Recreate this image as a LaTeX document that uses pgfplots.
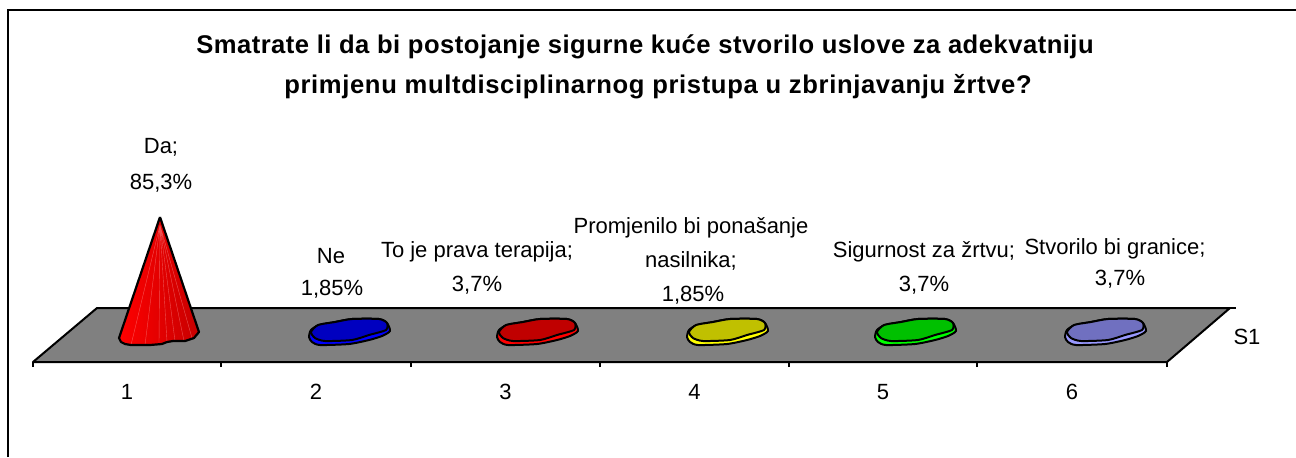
\documentclass[border=0pt]{standalone}
\usepackage{fontspec}
\setmainfont{Liberation Sans}
\usepackage{pgfplots}
\usepackage{pgfplotstable}
\pgfplotsset{compat=1.18}

% outlines in picture pixels, for the first flat cone (the others are shifted by 189 px)
\pgfplotstableread{
x y
497 337
499 330
507 325
523 322
540 319
567 319
575 323
578 331
570 336
557 340
537 344
508 345
500 342
}\blobbase
\pgfplotstableread{
x y
499 332
506 325
523 322
540 319
567 319
575 323
574 330
557 335
540 340
513 341
503 338
}\blobtop

\definecolor{floorgray}{HTML}{808080}
\definecolor{coneblue}{HTML}{0000C0}
\definecolor{coneblueb}{HTML}{0000FF}
\definecolor{conered}{HTML}{C00000}
\definecolor{coneredb}{HTML}{FF0000}
\definecolor{coneyel}{HTML}{C0C000}
\definecolor{coneyelb}{HTML}{FFFF00}
\definecolor{conegrn}{HTML}{00C000}
\definecolor{conegrnb}{HTML}{00FF00}
\definecolor{conepur}{HTML}{7070C0}
\definecolor{conepurb}{HTML}{9999FF}

\newcommand{\flatcone}[3]{%
  \addplot[smooth cycle, tension=0.4, fill=#3, draw=black, line width=1pt, line join=round] table[x expr=\thisrow{x}+#1, y=y] {\blobbase};
  \addplot[smooth cycle, tension=0.4, fill=#2, draw=black, line width=1pt, line join=round] table[x expr=\thisrow{x}+#1, y=y] {\blobtop};
}

\begin{document}
\begin{tikzpicture}
  \begin{axis}[
      scale only axis,
      width=567pt, height=181pt,
      xmin=33, xmax=1167, ymin=0, ymax=362,
      y dir=reverse,
      clip=false,
      axis x line=bottom,
      axis y line=none,
      axis line style={-, line width=1pt},
      xtick={33,221,411,600,789,977,1167},
      xticklabels={1,2,3,4,5,6},
      x tick label as interval,
      major tick length=2.5pt,
      tick align=outside,
      tick style={black, line width=0.8pt},
      xticklabel style={font=\fontsize{11}{13}\selectfont, yshift=-5pt},
    ]
    % frame of the chart area
    \path[use as bounding box] (axis cs:0,0) rectangle (axis cs:1296,457);
    \draw[line width=1.2pt] (axis cs:8,457) -- (axis cs:8,10) -- (axis cs:1296,10);

    % floor
    \addplot[fill=floorgray, draw=black, line width=1pt, line join=round]
      coordinates {(33,362) (97,308) (1230,308) (1167,362)} -- cycle;
    \addplot[black, line width=1pt] coordinates {(1230,308) (1236,308)};

    % tall cone
    \addplot[left color=red, middle color=red!97!black, right color=red!78!black, draw=none]
      coordinates {(160,217) (119,338) (121,342) (125,344) (131,345) (150,345) (162,344) (167,342) (173,341) (185,341) (194,338) (199,332)} -- cycle;
    \addplot[white!70!red, line width=0.2pt, opacity=0.45, unbounded coords=jump] coordinates {
      (160,225) (131,345)
      (nan,nan)
      (160,225) (145,345)
      (nan,nan)
      (160,225) (159,344)
      (nan,nan)
      (160,225) (167,342)
      (nan,nan)
      (160,225) (175,341)
      (nan,nan)
      (160,225) (184,341)
      (nan,nan)
      (160,225) (192,338)
    };
    \addplot[black, line width=1.1pt, line join=round]
      coordinates {(160,217) (119,338) (121,342) (125,344) (131,345) (150,345) (162,344) (167,342) (173,341) (185,341) (194,338) (199,332) (160,217)};

    % flat cones
    \flatcone{-188}{coneblue}{coneblueb}
    \flatcone{0}{conered}{coneredb}
    \flatcone{190}{coneyel}{coneyelb}
    \flatcone{378}{conegrn}{conegrnb}
    \flatcone{568}{conepur}{conepurb}

    % data labels
    \tikzset{lbl/.style={font=\fontsize{11}{13}\selectfont, inner sep=0pt, anchor=center, yshift=-0.8pt}}
    \node[lbl] at (axis cs:161,146) {Da;};
    \node[lbl] at (axis cs:161,182) {85,3\%};
    \node[lbl] at (axis cs:331,254) {Ne};
    \node[lbl] at (axis cs:332,288) {1,85\%};
    \node[lbl] at (axis cs:477,250) {To je prava terapija;};
    \node[lbl] at (axis cs:477,284) {3,7\%};
    \node[lbl] at (axis cs:691,226) {Promjenilo bi ponašanje};
    \node[lbl] at (axis cs:691,259) {nasilnika;};
    \node[lbl] at (axis cs:693,294) {1,85\%};
    \node[lbl] at (axis cs:924,250) {Sigurnost za žrtvu;};
    \node[lbl] at (axis cs:924,284) {3,7\%};
    \node[lbl] at (axis cs:1115,247) {Stvorilo bi granice;};
    \node[lbl] at (axis cs:1120,278) {3,7\%};
    \node[lbl] at (axis cs:1247,335) {S1};

    % title
    \tikzset{ttl/.style={font=\fontsize{12.8}{20}\selectfont\bfseries\addfontfeatures{LetterSpace=1.9}, inner sep=0pt, anchor=center}}
    \node[ttl] at (axis cs:645,47) {Smatrate li da bi postojanje sigurne kuće stvorilo uslove za adekvatniju};
    \node[ttl, font=\fontsize{12.8}{20}\selectfont\bfseries\addfontfeatures{LetterSpace=2.5}] at (axis cs:658,87) {primjenu multdisciplinarnog pristupa u zbrinjavanju žrtve?};
  \end{axis}
\end{tikzpicture}
\end{document}
